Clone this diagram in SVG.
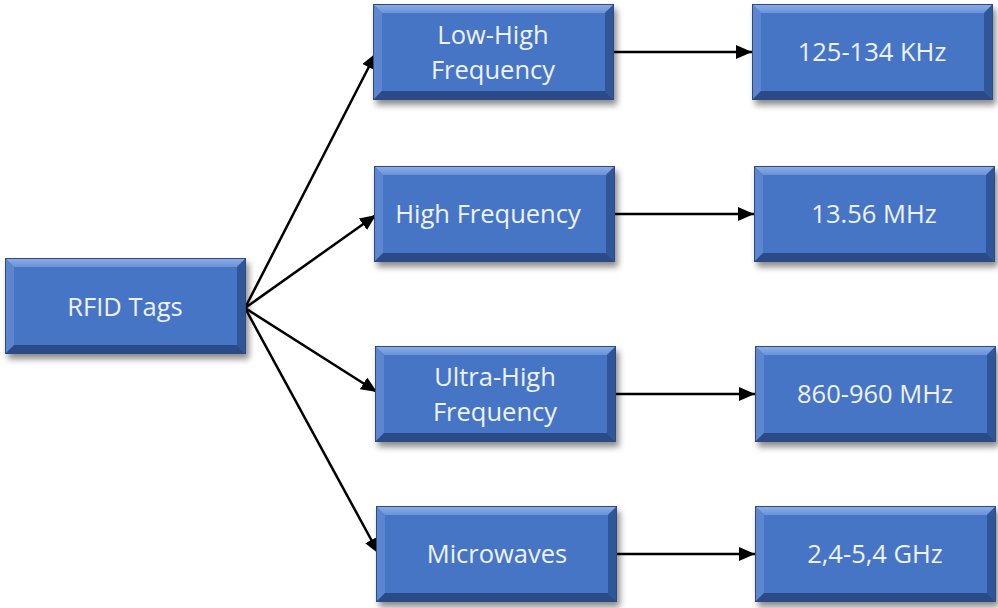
<svg xmlns="http://www.w3.org/2000/svg" xmlns:xlink="http://www.w3.org/1999/xlink" width="998" height="608" viewBox="0 0 998 608">
<defs>
<style>
.lbl{font-family:"Open Sans","Liberation Sans",sans-serif;font-size:25.5px;fill:#EEF2FA;text-anchor:middle}
.con{stroke:#000;stroke-width:2.5;fill:none;marker-end:url(#ah)}
</style>
<filter id="sh" x="-10%" y="-10%" width="125%" height="130%">
<feDropShadow dx="3" dy="5" stdDeviation="3" flood-color="#000" flood-opacity="0.45"/>
</filter>
<linearGradient id="tg" x1="0" y1="0" x2="0" y2="1">
<stop offset="0" stop-color="#8EAEE6"/><stop offset="1" stop-color="#6C92D6"/>
</linearGradient>
<g id="bx">
<rect width="241" height="96" fill="#4674C6"/>
<polygon points="0,0 241,0 232,9 9,9" fill="url(#tg)"/>
<polygon points="0,0 9,9 9,87 0,96" fill="#5C86D0"/>
<polygon points="241,0 241,96 232,87 232,9" fill="#2F5699"/>
<polygon points="0,96 9,87 232,87 241,96" fill="#2A4C88"/>
<rect x="0.5" y="0.5" width="240" height="95" fill="none" stroke="#2E4A80" stroke-width="1"/>
</g>
<marker id="ah" viewBox="0 0 16 14" refX="16" refY="7" markerWidth="16" markerHeight="14" markerUnits="userSpaceOnUse" orient="auto">
<path d="M0,0 L16,7 L0,14 z" fill="#000"/>
</marker>
</defs>
<rect width="998" height="608" fill="#fff"/>
<g id="connectors">
<line class="con" x1="245" y1="308" x2="376" y2="53"/>
<line class="con" x1="245" y1="308" x2="376" y2="215"/>
<line class="con" x1="245" y1="308" x2="377" y2="392"/>
<line class="con" x1="245" y1="308" x2="379" y2="554"/>
<line class="con" x1="614" y1="52" x2="752" y2="52"/>
<line class="con" x1="615" y1="214" x2="754" y2="214"/>
<line class="con" x1="616" y1="394" x2="755" y2="394"/>
<line class="con" x1="616" y1="554" x2="755" y2="554"/>
</g>
<g id="rfid"><use xlink:href="#bx" x="5" y="258" filter="url(#sh)"/><text class="lbl" x="125" y="316">RFID Tags</text></g>
<g id="lowhigh"><use xlink:href="#bx" x="373" y="4" filter="url(#sh)"/><text class="lbl" x="493" y="44">Low-High</text><text class="lbl" x="493" y="79">Frequency</text></g>
<g id="high"><use xlink:href="#bx" x="374" y="166" filter="url(#sh)"/><text class="lbl" x="488" y="223">High Frequency</text></g>
<g id="ultra"><use xlink:href="#bx" x="375" y="346" filter="url(#sh)"/><text class="lbl" x="495" y="386">Ultra-High</text><text class="lbl" x="495" y="421">Frequency</text></g>
<g id="micro"><use xlink:href="#bx" x="376" y="506" filter="url(#sh)"/><text class="lbl" x="497" y="563">Microwaves</text></g>
<g id="khz"><use xlink:href="#bx" x="752" y="4" filter="url(#sh)"/><text class="lbl" x="872" y="61">125-134 KHz</text></g>
<g id="mhz13"><use xlink:href="#bx" x="754" y="166" filter="url(#sh)"/><text class="lbl" x="874" y="223">13.56 MHz</text></g>
<g id="mhz860"><use xlink:href="#bx" x="755" y="346" filter="url(#sh)"/><text class="lbl" x="875" y="403">860-960 MHz</text></g>
<g id="ghz"><use xlink:href="#bx" x="755" y="506" filter="url(#sh)"/><text class="lbl" x="875" y="563">2,4-5,4 GHz</text></g>
</svg>
